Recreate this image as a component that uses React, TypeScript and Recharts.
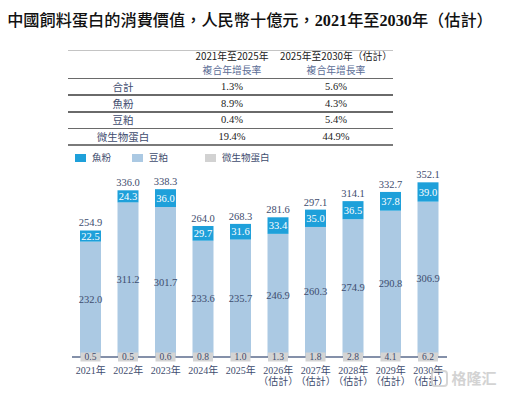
import React from 'react';
import { BarChart, Bar, XAxis, YAxis, LabelList } from 'recharts';

const years = ['2021年', '2022年', '2023年', '2024年', '2025年', '2026年', '2027年', '2028年', '2029年', '2030年'];
const estimated = [false, false, false, false, false, true, true, true, true, true];
const microValues = [0.5, 0.5, 0.6, 0.8, 1.0, 1.3, 1.8, 2.8, 4.1, 6.2];
const soyValues = [232.0, 311.2, 301.7, 233.6, 235.7, 246.9, 260.3, 274.9, 290.8, 306.9];
const fishValues = [22.5, 24.3, 36.0, 29.7, 31.6, 33.4, 35.0, 36.5, 37.8, 39.0];
const totalValues = [254.9, 336.0, 338.3, 264.0, 268.3, 281.6, 297.1, 314.1, 332.7, 352.1];

const tableRowLabels = ['合計', '魚粉', '豆粕', '微生物蛋白'];
const cagr2021to2025 = ['1.3%', '8.9%', '0.4%', '19.4%'];
const cagr2025to2030 = ['5.6%', '4.3%', '5.4%', '44.9%'];
const tableHeaders = ['2021年至2025年', '2025年至2030年（估計）'];
const tableSubHeader = '複合年增長率';

const legendItems = [
  { name: '魚粉', color: '#1ea0da' },
  { name: '豆粕', color: '#abc9e3' },
  { name: '微生物蛋白', color: '#d2d2d2' },
];

const data = years.map((y, i) => ({
  year: y,
  est: estimated[i],
  micro: microValues[i],
  soy: soyValues[i],
  fish: fishValues[i],
  total: totalValues[i],
}));

const NAVY = '#3e4c6e';
const SERIF = '"Liberation Serif", "Noto Sans CJK TC", serif';
const SANS = '"Noto Sans CJK TC", "Noto Sans", sans-serif';

const fmt = (v: any) => Number(v).toFixed(1);

const Centered = ({ x, y, children, style }: any) => (
  <div
    style={{
      position: 'absolute',
      left: x,
      top: y,
      transform: 'translate(-50%, -50%)',
      whiteSpace: 'nowrap',
      lineHeight: 1,
      ...style,
    }}
  >
    {children}
  </div>
);

const HLine = ({ y, x1, x2, color, h }: any) => (
  <div style={{ position: 'absolute', left: x1, top: y - h / 2, width: x2 - x1, height: h, background: color }} />
);

const YearTick = (props: any) => {
  const { x, y, payload, index } = props;
  const est = estimated[index];
  return (
    <g transform={`translate(${x},${y})`}>
      <text x={0} y={5} textAnchor="middle" dominantBaseline="central" fontSize={10} fill={NAVY} fontFamily={SERIF}>
        {payload.value}
      </text>
      {est && (
        <text x={0} y={16} textAnchor="middle" dominantBaseline="central" fontSize={10} fill={NAVY} fontFamily={SERIF}>
          （估計）
        </text>
      )}
    </g>
  );
};

const MicroLabel = (props: any) => {
  const { x, y, width, height, value } = props;
  const cx = Number(x) + Number(width) / 2;
  const ay = Number(y) + Number(height);
  return (
    <g>
      <rect x={cx - 10} y={ay - 4.5} width={20} height={9} fill="#d4d4d4" />
      <text x={cx} y={ay} textAnchor="middle" dominantBaseline="central" fontSize={9.5} fill={NAVY} fontFamily={SERIF}>
        {fmt(value)}
      </text>
    </g>
  );
};

export default function App() {
  return (
    <div style={{ position: 'absolute', left: 0, top: 0, width: 505, height: 395, background: '#fff', overflow: 'hidden' }}>
      <Centered x={250} y={20} style={{ fontSize: 16.2, fontFamily: SANS, fontWeight: 500, color: '#111' }}>
        中國飼料蛋白的消費價值，人民幣十億元，
        <span style={{ fontFamily: SERIF, fontWeight: 700 }}>2021</span>年至
        <span style={{ fontFamily: SERIF, fontWeight: 700 }}>2030</span>年（估計）
      </Centered>

      {/* table */}
      <HLine y={50} x1={68} x2={393} color="#c4c4c4" h={1} />
      <Centered x={232} y={56.5} style={{ fontSize: 9.8, fontFamily: SANS, color: '#222' }}>{tableHeaders[0]}</Centered>
      <Centered x={336} y={56.5} style={{ fontSize: 9.8, fontFamily: SANS, color: '#222' }}>{tableHeaders[1]}</Centered>
      <Centered x={232} y={71} style={{ fontSize: 9.8, fontFamily: SANS, color: '#5b6d96' }}>{tableSubHeader}</Centered>
      <Centered x={336} y={71} style={{ fontSize: 9.8, fontFamily: SANS, color: '#5b6d96' }}>{tableSubHeader}</Centered>
      <HLine y={78.5} x1={68} x2={393} color="#6a6a6a" h={1.5} />
      {tableRowLabels.map((lab, i) => (
        <React.Fragment key={lab}>
          <Centered x={123} y={87 + i * 16.7} style={{ fontSize: 10.5, fontFamily: SANS, color: NAVY }}>{lab}</Centered>
          <Centered x={232} y={87 + i * 16.7} style={{ fontSize: 10.5, fontFamily: SERIF, color: '#222' }}>{cagr2021to2025[i]}</Centered>
          <Centered x={336} y={87 + i * 16.7} style={{ fontSize: 10.5, fontFamily: SERIF, color: '#222' }}>{cagr2025to2030[i]}</Centered>
          <HLine y={95.2 + i * 16.6} x1={68} x2={393} color={i === 3 ? '#7a7a7a' : '#6a6a6a'} h={i === 3 ? 2 : 1.5} />
        </React.Fragment>
      ))}

      {/* legend */}
      {legendItems.map((it, i) => {
        const lx = [75, 132, 205][i];
        return (
          <React.Fragment key={it.name}>
            <div style={{ position: 'absolute', left: lx, top: 154, width: 11, height: 8, background: it.color }} />
            <div style={{ position: 'absolute', left: lx + 17, top: 158, transform: 'translateY(-50%)', fontSize: 9.5, lineHeight: 1, fontFamily: SANS, color: NAVY, whiteSpace: 'nowrap' }}>
              {it.name}
            </div>
          </React.Fragment>
        );
      })}

      <div style={{ position: 'absolute', left: 0, top: 0 }}>
        <BarChart width={505} height={395} data={data} margin={{ top: 178.4, right: 58, bottom: 8, left: 72 }} barSize={21}>
          <YAxis hide domain={[0, 360]} />
          <XAxis
            dataKey="year"
            height={30}
            tickLine={false}
            axisLine={{ stroke: '#5b6b8c', strokeWidth: 1.5 }}
            tick={<YearTick />}
            interval={0}
          />
          <Bar dataKey="micro" stackId="a" fill="#d2d2d2" isAnimationActive={false}>
            <LabelList dataKey="micro" content={<MicroLabel />} />
          </Bar>
          <Bar dataKey="soy" stackId="a" fill="#abc9e3" isAnimationActive={false}>
            <LabelList dataKey="soy" position="center" formatter={fmt} fill={NAVY} fontSize={10.5} fontFamily={SERIF} />
          </Bar>
          <Bar dataKey="fish" stackId="a" fill="#1ea0da" isAnimationActive={false}>
            <LabelList dataKey="fish" position="center" formatter={fmt} fill="#ffffff" fontSize={10.5} fontFamily={SERIF} />
            <LabelList dataKey="total" position="top" offset={4} formatter={fmt} fill={NAVY} fontSize={10.5} fontFamily={SERIF} />
          </Bar>
        </BarChart>
      </div>

      {/* watermark */}
      <div style={{ position: 'absolute', left: 431, top: 370, width: 13, height: 13, border: '2px solid #cfcfcf', borderRadius: 4, opacity: 0.85 }} />
      <Centered x={474} y={377} style={{ fontSize: 15, fontFamily: SANS, color: '#cfcfcf', fontWeight: 700, opacity: 0.9 }}>格隆汇</Centered>
    </div>
  );
}
